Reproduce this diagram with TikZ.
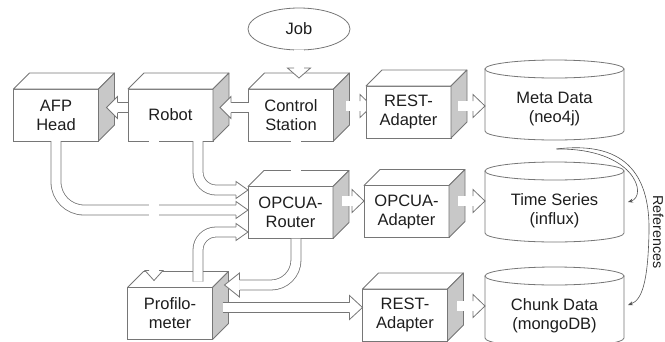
\documentclass[tikz,border=0pt]{standalone}
\usepackage{fontspec}
\setmainfont{Liberation Sans}
\usetikzlibrary{calc,shapes.geometric,arrows.meta}
\pgfdeclarelayer{background}
\pgfsetlayers{background,main}
\definecolor{lc}{HTML}{767676}
\definecolor{sidegray}{HTML}{C8C8C8}
\definecolor{tc}{HTML}{1E1E1E}
% half distance between the two outline strokes of a block-arrow shaft
\newcommand\shw{5}
% hollow arrow head: #1 tip, (#2,#3) unit direction, #4 half width, #5 length
\newcommand\hhead[5]{%
  \path[headst]
    ($(#1)+({-#5*#2-\shw*#3},{-#5*#3+\shw*#2})$) --
    ($(#1)+({-#5*#2-#4*#3},{-#5*#3+#4*#2})$) --
    (#1) --
    ($(#1)+({-#5*#2+#4*#3},{-#5*#3-#4*#2})$) --
    ($(#1)+({-#5*#2+\shw*#3},{-#5*#3-\shw*#2})$);}
\begin{document}
\begin{tikzpicture}[x=1pt,y=-1pt,
  box/.style={draw=lc, line width=0.8pt, fill=white, minimum width=85, minimum height=52,
    inner sep=0, outer sep=0, align=center, text=tc, font=\fontsize{16.5}{19}\selectfont},
  dbnode/.style={minimum width=139, minimum height=62, inner sep=0, outer sep=0,
    align=center, text=tc, font=\fontsize{16.5}{19}\selectfont},
  topface/.style={draw=lc, line width=0.8pt, fill=white, line join=round},
  sideface/.style={draw=lc, line width=0.8pt, fill=sidegray, line join=round},
  cylst/.style={draw=lc, line width=0.8pt, fill=white},
  shaft/.style={draw=lc, line width=0.8pt, double=white, double distance=9.2pt},
  headst/.style={draw=lc, line width=0.8pt, fill=white, line join=miter},
  refline/.style={draw=lc!70!black, line width=0.6pt, -{Stealth[length=5pt,width=4pt]}}]
\useasboundingbox (0,0) rectangle (665,341);

% job trigger
\node[ellipse, draw=lc, line width=0.8pt, minimum width=102, minimum height=42, inner sep=0,
  text=tc, font=\fontsize{16.5}{19}\selectfont] (job) at (299,29) {Job};

% devices and adapters (front faces)
\node[box] (afp)    at (56,115)    {AFP\\Head};
\node[box] (robot)  at (170.5,115) {Robot};
\node[box] (cs)     at (291,115)   {Control\\Station};
\node[box] (resta)  at (408.5,112) {REST-\\Adapter};
\node[box] (router) at (290.5,212.5) {OPCUA-\\Router};
\node[box] (opca)   at (406.5,211.5) {OPCUA-\\Adapter};
\node[box] (prof)   at (170,313.5) {Profilo-\\meter};
\node[box] (restb)  at (405,315)   {REST-\\Adapter};

% top and side faces of the boxes
\foreach \n in {afp,robot,cs,resta,router,opca,prof,restb}{
  \draw[topface] (\n.north west) -- ++(16,-16) -- ($(\n.north east)+(16,-16)$) -- (\n.north east) -- cycle;
  \draw[sideface] (\n.north east) -- ++(16,-16) -- ($(\n.south east)+(16,-16)$) -- (\n.south east) -- cycle;
}

% databases
\node[dbnode] (meta)  at (554.5,109) {Meta Data\\(neo4j)};
\node[dbnode] (ts)    at (554.5,211) {Time Series\\(influx)};
\node[dbnode] (chunk) at (554.5,316) {Chunk Data\\(mongoDB)};
\begin{pgfonlayer}{background}
\foreach \n in {meta,ts,chunk}{
  \draw[cylst] ($(\n.north west)+(0,-9)$) -- ($(\n.south west)+(0,-9)$)
    arc[start angle=180, end angle=0, x radius=69.5, y radius=9]
    -- ($(\n.north east)+(0,-9)$) -- cycle;
  \draw[cylst] ($(\n.north)+(0,-9)$) ellipse[x radius=69.5, y radius=9];
}
\end{pgfonlayer}

% tip points of the block arrows
\coordinate (tJob) at ($(cs.north)+(8,-11)$);
\coordinate (tRob) at ($(robot.east)+(7,-7.5)$);
\coordinate (tAfp) at ($(afp.east)+(8,-7.5)$);
\coordinate (tRa)  at ($(resta.west)+(6,-6)$);
\coordinate (tMeta) at ($(meta.west)+(0,-3)$);
\coordinate (tOa)  at ($(opca.west)+(0,-10.5)$);
\coordinate (tTs)  at ($(ts.west)+(0,-10)$);
\coordinate (tRb)  at ($(restb.west)+(0,-7.5)$);
\coordinate (tCh)  at ($(chunk.west)+(0,-10)$);
\coordinate (tR1)  at ($(router.west)+(0,-22.5)$);
\coordinate (tR2)  at ($(router.west)+(0,-2.5)$);
\coordinate (tR3)  at ($(router.west)+(0,19.5)$);
\coordinate (tP1)  at ($(prof.north)+(-16,-7)$);
\coordinate (tP2)  at ($(prof.east)+(12,-28.5)$);

% straight block arrows
\draw[shaft] (job.south) -- ($(tJob)+(0,-10)$);                \hhead{tJob}{0}{1}{11.5}{10}
\draw[shaft] ($(cs.west)+(0,-7.5)$) -- ($(tRob)+(11,0)$);     \hhead{tRob}{-1}{0}{11}{11}
\draw[shaft] ($(robot.west)+(0,-7.5)$) -- ($(tAfp)+(11,0)$);  \hhead{tAfp}{-1}{0}{11}{11}
\begin{scope}
  % this head runs under the adapter's front face
  \clip (cs.east |- 0,0) rectangle (resta.west |- 0,200);
  \draw[shaft] ($(cs.east)+(12,-9)$) -- ($(tRa)+(-12,0)$);      \hhead{tRa}{1}{0}{11.5}{12}
\end{scope}
\draw[shaft] ($(resta.east)+(7,-6)$) -- ($(tMeta)+(-12,0)$);  \hhead{tMeta}{1}{0}{11.5}{12}
\draw[shaft] ($(router.east)+(9,-11.5)$) -- ($(tOa)+(-12,0)$); \hhead{tOa}{1}{0}{11.5}{12}
\draw[shaft] ($(opca.east)+(9,-10.5)$) -- ($(tTs)+(-12,0)$);  \hhead{tTs}{1}{0}{11.5}{12}
\draw[shaft] ($(prof.east)+(10,-6)$) -- ($(tRb)+(-13,0)$);    \hhead{tRb}{1}{0}{12}{13}
\draw[shaft] ($(restb.east)+(9,-9)$) -- ($(tCh)+(-12,0)$);    \hhead{tCh}{1}{0}{11.5}{12}

% control station link down to the router
\draw[shaft] ($(cs.south)+(5,0)$) -- ($(router.north)+(5.5,-16)$);

% bent block arrows into the router and the profilometer
\draw[shaft, rounded corners=28] (afp.south) |- ($(tR2)+(-12,0)$);             \hhead{tR2}{1}{0}{8.5}{12}
\draw[shaft, rounded corners=18] ($(robot.south)+(27.5,0)$) |- ($(tR1)+(-12,0)$); \hhead{tR1}{1}{0}{8.5}{12}
\draw[shaft, rounded corners=18] ($(prof.north)+(28,-6)$) |- ($(tR3)+(-12,0)$);  \hhead{tR3}{1}{0}{8.5}{12}
\draw[shaft] ($(robot.south)+(-16.5,0)$) -- ($(tP1)+(0,-10)$);                  \hhead{tP1}{0}{1}{9}{10}
\draw[shaft, rounded corners=25] ($(router.south)+(5.5,0)$) |- ($(tP2)+(15,0)$); \hhead{tP2}{-1}{0}{12}{15}

% reference links between the databases
\coordinate (mref) at ($(meta.south)+(2,9)$);
\draw[refline] (mref) .. controls (635,148) and (648,196) .. ($(ts.east)+(4,-9)$);
\draw[refline] (mref) .. controls (630,140) and (650,180) .. (649,232)
  .. controls (648,282) and (642,300) .. ($(chunk.east)+(4,-11)$);
\node[rotate=-90, anchor=base, text=tc, font=\fontsize{14.3}{16}\selectfont, inner sep=0] (refs) at (653,232) {References};
\end{tikzpicture}
\end{document}
